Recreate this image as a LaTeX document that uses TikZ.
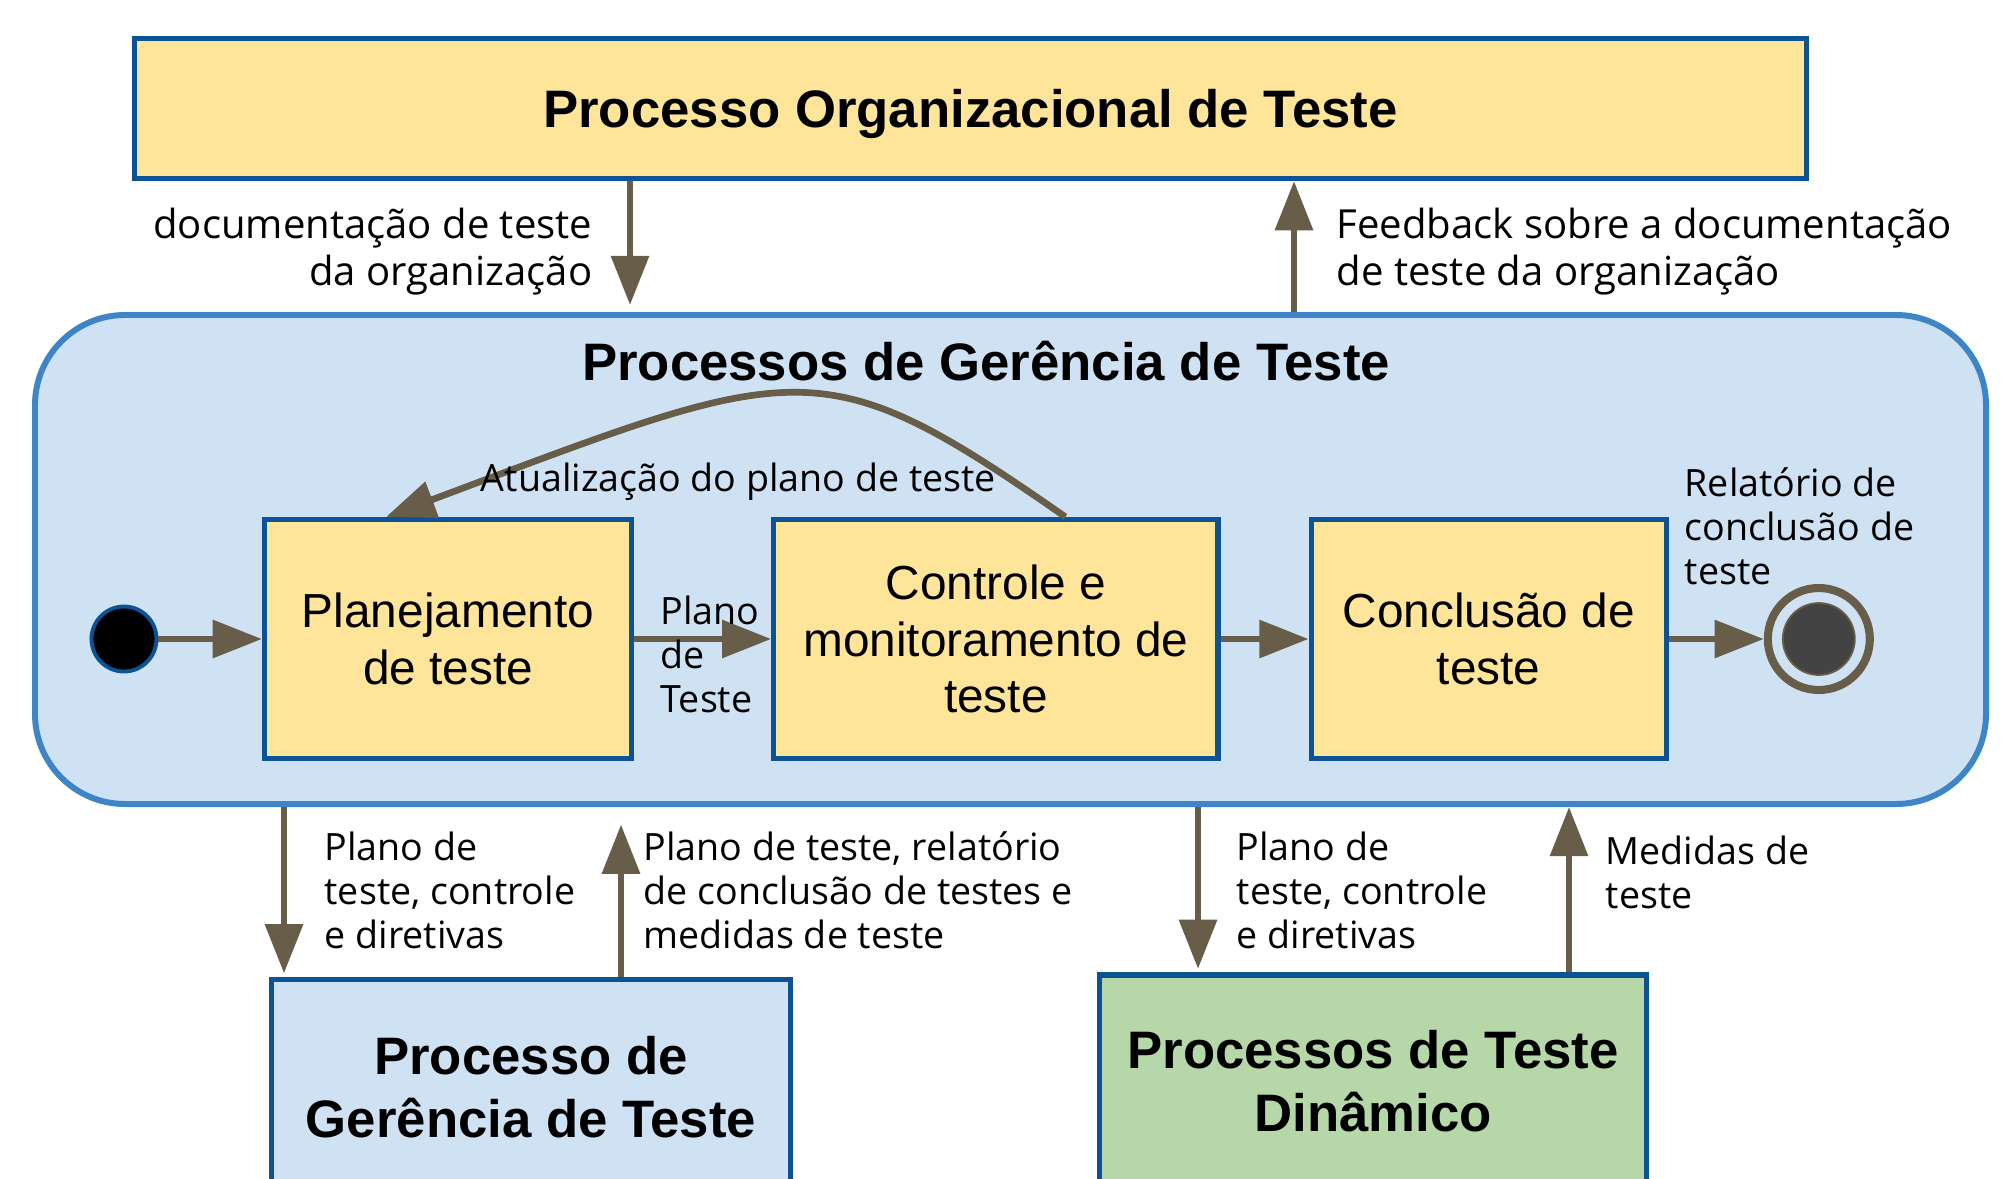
\documentclass[tikz,border=0pt]{standalone}
\usepackage{fontspec}
\setmainfont{Liberation Sans}
\newfontfamily\labelfont{Open Sans}
\usetikzlibrary{positioning}
\usetikzlibrary{arrows.meta}

\definecolor{boxyellow}{HTML}{FFE599}
\definecolor{boxblue}{HTML}{0B5394}
\definecolor{paleblue}{HTML}{CFE2F3}
\definecolor{frameblue}{HTML}{3D85C6}
\definecolor{palegreen}{HTML}{B6D7A8}
\definecolor{flowbrown}{RGB}{104,93,72}
\definecolor{endgray}{HTML}{434343}

\begin{document}
\begin{tikzpicture}
    \tikzstyle{proc}=[rectangle, draw=boxblue, line width=1.5pt, inner sep=0pt,
            align=center, font=\bfseries\fontsize{15}{18}\selectfont]
    \tikzstyle{state}=[rectangle, fill=boxyellow, draw=boxblue, line width=1.5pt,
            inner sep=0pt, align=center, minimum height=2.39cm,
            font=\fontsize{13.6}{16}\selectfont]
    \tikzstyle{lbl}=[inner sep=0pt, font=\labelfont\fontsize{10.7}{12.5}\selectfont]
    \tikzstyle{toplbl}=[inner sep=0pt, font=\labelfont\fontsize{11.4}{13.5}\selectfont]
    \tikzstyle{flow}=[draw=flowbrown, line width=1.9pt,
            -{Triangle[length=14pt, width=10.5pt]}]

        \useasboundingbox (0,0) rectangle (20.16,-11.78);
        \clip (0,0) rectangle (20.16,-11.78);

        % processo organizacional
        \node[proc, fill=boxyellow, minimum width=16.72cm, minimum height=1.40cm,
            text depth=0pt] (org) at (9.705,-1.085) {Processo Organizacional de Teste};

        % processos de gerencia
        \node[rectangle, rounded corners=0.9cm, fill=paleblue, draw=frameblue,
            line width=1.7pt, minimum width=19.51cm, minimum height=4.89cm]
            (mgmt) at (10.105,-5.595) {};
        \node[inner sep=0pt, font=\bfseries\fontsize{15}{18}\selectfont]
            (mgmtTitle) at (9.86,-3.61) {Processos de Gerência de Teste};

        \node[circle, fill=black, draw=boxblue, line width=1.1pt,
            minimum size=0.65cm, inner sep=0pt] (ini) at (1.24,-6.39) {};
        \node[state, minimum width=3.67cm, right=1.035cm of ini]
            (plan) {Planejamento\\de teste};
        \node[state, minimum width=4.44cm, right=1.37cm of plan]
            (ctrl) {Controle e\\monitoramento de\\teste};
        \node[state, minimum width=3.55cm, right=0.88cm of ctrl]
            (conc) {Conclusão de\\teste};
        \node[circle, fill=paleblue, draw=flowbrown, line width=2.3pt,
            minimum size=1.02cm, inner sep=0pt, right=0.95cm of conc] (fim) {};
        \node[circle, fill=endgray, draw=flowbrown, line width=0.5pt,
            minimum size=0.72cm, inner sep=0pt] (fimIn) at (fim) {};

        % processos de baixo
        \node[proc, fill=paleblue, minimum width=5.19cm, minimum height=2.15cm]
            (gerbox) at (5.31,-10.87) {Processo de\\Gerência de Teste};
        \node[proc, fill=palegreen, minimum width=5.475cm, minimum height=2.12cm]
            (dyn) at (13.73,-10.81) {Processos de Teste\\Dinâmico};

        \foreach \a/\b in {ini/plan, plan/ctrl, ctrl/conc, conc/fim}
        {
            \draw[flow] (\a) -- (\b);
        }

        \draw[flow] ([xshift=0.695cm]ctrl.north) .. controls (8.19,-3.45)
            and (8.0,-3.62) .. ([xshift=-0.62cm]plan.north);

        \coordinate (xd) at (6.30,0);
        \coordinate (xu) at (12.94,0);
        \coordinate (xa) at (2.84,0);
        \coordinate (xb) at (6.21,0);
        \coordinate (xc) at (11.98,0);
        \coordinate (xe) at (15.69,0);

        \draw[flow, shorten >=2pt] (xd |- org.south) -- (xd |- mgmt.north);
        \draw[flow] (xu |- mgmt.north) -- (xu |- org.south);
        \draw[flow, shorten >=1pt] (xa |- mgmt.south) -- (xa |- gerbox.north);
        \draw[flow, shorten >=5pt] (xb |- gerbox.north) -- (xb |- mgmt.south);
        \draw[flow, shorten >=1pt] (xc |- mgmt.south) -- (xc |- dyn.north);
        \draw[flow] (xe |- dyn.north) -- (xe |- mgmt.south);

        % rotulos
        \node[toplbl, align=right, anchor=east] (docLbl) at (5.93,-2.515)
            {documentação de teste\\da organização};
        \node[toplbl, align=left, anchor=west] (fbLbl) at (13.36,-2.515)
            {Feedback sobre a documentação\\de teste da organização};
        \node[lbl] (updLbl) at (7.385,-4.82) {Atualização do plano de teste};
        \node[lbl, align=left, anchor=west] (planLbl) at (6.60,-6.54)
            {Plano\\de\\Teste};
        \node[lbl, align=left, anchor=west] (relLbl) at (16.84,-5.26)
            {Relatório de\\conclusão de\\teste};
        \node[lbl, align=left, anchor=west] (dirLbl) at (3.24,-8.90)
            {Plano de\\teste, controle\\e diretivas};
        \node[lbl, align=left, anchor=west] (repLbl) at (6.43,-8.90)
            {Plano de teste, relatório\\de conclusão de testes e\\medidas de teste};
        \node[lbl, align=left, anchor=west] (dirLbl2) at (12.36,-8.90)
            {Plano de\\teste, controle\\e diretivas};
        \node[lbl, align=left, anchor=west] (medLbl) at (16.05,-8.72)
            {Medidas de\\teste};
    \end{tikzpicture}
\end{document}
